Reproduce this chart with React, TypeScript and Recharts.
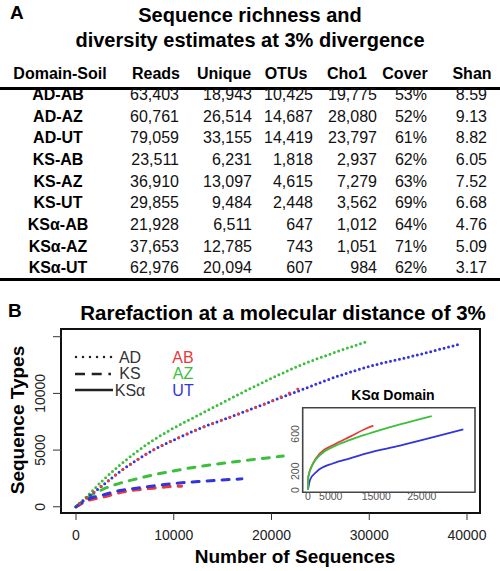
import React from "react";
import { LineChart, Line, XAxis, YAxis, ReferenceArea } from "recharts";

const FONT = '"Liberation Sans", Arial, Helvetica, sans-serif';

// ---- panel A table ----
const tableHeaders = ["Domain-Soil", "Reads", "Unique", "OTUs", "Cho1", "Cover", "Shan"];
const domainSoil = ["AD-AB", "AD-AZ", "AD-UT", "KS-AB", "KS-AZ", "KS-UT", "KSα-AB", "KSα-AZ", "KSα-UT"];
const reads = [63403, 60761, 79059, 23511, 36910, 29855, 21928, 37653, 62976];
const unique = [18943, 26514, 33155, 6231, 13097, 9484, 6511, 12785, 20094];
const otus = [10425, 14687, 14419, 1818, 4615, 2448, 647, 743, 607];
const cho1 = [19775, 28080, 23797, 2937, 7279, 3562, 1012, 1051, 984];
const cover = [53, 52, 61, 62, 63, 69, 64, 71, 62];
const shan = [8.59, 9.13, 8.82, 6.05, 7.52, 6.68, 4.76, 5.09, 3.17];

// ---- panel B rarefaction curves: [number of sequences, sequence types] ----
const adAB: [number, number][] = [[0, 0], [1090, 760], [2790, 1930], [4500, 3100], [6200, 4120], [7900, 5000], [9610, 5730], [12500, 6850], [16050, 8000], [19530, 9150], [22700, 10400]];
const adAZ: [number, number][] = [[0, 0], [1090, 900], [2790, 2370], [4500, 3680], [6200, 4850], [7900, 5880], [9610, 6760], [12500, 8070], [16050, 9650], [19530, 11140], [22900, 12460], [27000, 13770], [29750, 14560]];
const adUT: [number, number][] = [[0, 0], [1090, 760], [2790, 1930], [4500, 3100], [6200, 4120], [7900, 5000], [9610, 5730], [12500, 6850], [16050, 8000], [19530, 9150], [22900, 10260], [27000, 11580], [30370, 12460], [33840, 13160], [39470, 14390]];
const ksAB: [number, number][] = [[0, 0], [1090, 500], [2790, 850], [4500, 1250], [6200, 1490], [7900, 1640], [9610, 1780], [10800, 1820]];
const ksAZ: [number, number][] = [[0, 0], [1090, 760], [2790, 1550], [4500, 2080], [6200, 2460], [7900, 2810], [9610, 3100], [12500, 3540], [16050, 3950], [21200, 4470]];
const ksUT: [number, number][] = [[0, 0], [1090, 610], [2790, 1050], [4500, 1430], [6200, 1640], [7900, 1840], [9610, 2020], [12500, 2220], [16970, 2460]];

// inset: KSα domain
const ksaAB: [number, number][] = [[0, 0], [70, 142], [1160, 290], [2640, 392], [5560, 481], [9230, 570], [12900, 660], [14350, 688]];
const ksaAZ: [number, number][] = [[0, 0], [70, 142], [1160, 285], [2640, 374], [5560, 463], [9230, 535], [12900, 596], [16550, 652], [20220, 702], [27190, 791]];
const ksaUT: [number, number][] = [[0, 0], [440, 107], [1910, 196], [5560, 286], [9230, 339], [12900, 392], [20220, 474], [27540, 564], [34130, 649]];

const xTicks = [0, 10000, 20000, 30000, 40000];
const yTicks = [0, 5000, 10000, 15000];
const yLabelled = [0, 5000, 10000];
const insetXTicks = [0, 5000, 15000, 25000];
const insetYTicks = [0, 200, 600];

const legendTypes = ["AD", "KS", "KSα"];
const legendSoils = ["AB", "AZ", "UT"];

const RED = "#e83a3a";
const GREEN = "#3cbf3c";
const BLUE = "#3434dc";

const pts = (arr: [number, number][]) => arr.map(([x, y]) => ({ x, y }));

const Txt = ({ x, y, size, bold, anchor = "middle", color = "#000", rotate, children }: any) => {
  const w = 480;
  const left = anchor === "start" ? x : anchor === "end" ? x - w : x - w / 2;
  return (
    <div
      style={{
        position: "absolute",
        left,
        top: y - size,
        width: w,
        height: size * 2,
        lineHeight: `${size * 2}px`,
        fontSize: size,
        fontWeight: bold ? 700 : 400,
        color,
        whiteSpace: "nowrap",
        textAlign: anchor === "start" ? "left" : anchor === "end" ? "right" : "center",
        transform: rotate ? `rotate(${rotate}deg)` : undefined,
      }}
    >
      {children}
    </div>
  );
};

const MainXTick = ({ x, payload }: any) => (
  <text x={x} y={245} textAnchor="middle" dominantBaseline="central" fontSize={14} fill="#222" fontFamily={FONT}>
    {payload.value}
  </text>
);

const MainYTick = ({ y, payload }: any) => (
  <text x={40} y={y} transform={`rotate(-90, 40, ${y})`} textAnchor="middle" dominantBaseline="central" fontSize={14} fill="#222" fontFamily={FONT}>
    {yLabelled.includes(payload.value) ? payload.value : ""}
  </text>
);

const InsetXTick = ({ x, payload }: any) => (
  <text x={x} y={116} textAnchor="middle" dominantBaseline="central" fontSize={10.5} fill="#555" fontFamily={FONT}>
    {payload.value}
  </text>
);

const InsetYTick = ({ y, payload }: any) => (
  <text x={15} y={y} transform={`rotate(-90, 15, ${y})`} textAnchor="middle" dominantBaseline="central" fontSize={10.5} fill="#555" fontFamily={FONT}>
    {payload.value}
  </text>
);

const dotted = { strokeDasharray: "0 4.6", strokeLinecap: "round" as const, strokeWidth: 3 };
const dashed = { strokeDasharray: "7 8", strokeLinecap: "round" as const, strokeWidth: 3 };

const colCenters = [60, 156, 224, 286, 347, 405, 472];
const colRights = [0, 179, 252, 313, 377, 427, 487];
const rowY = (i: number) => 95 + i * 21.67;

export default function App() {
  const columns: string[][] = [
    domainSoil,
    reads.map((v) => v.toLocaleString("en-US")),
    unique.map((v) => v.toLocaleString("en-US")),
    otus.map((v) => v.toLocaleString("en-US")),
    cho1.map((v) => v.toLocaleString("en-US")),
    cover.map((v) => `${v}%`),
    shan.map((v) => v.toFixed(2)),
  ];

  return (
    <div style={{ position: "absolute", left: 0, top: 0, width: 500, height: 571, background: "#fff", fontFamily: FONT, overflow: "hidden" }}>
      {/* panel A */}
      <Txt x={10} y={13} size={19} bold anchor="start">A</Txt>
      <Txt x={250} y={15} size={20} bold>Sequence richness and</Txt>
      <Txt x={250} y={40} size={20} bold>diversity estimates at 3% divergence</Txt>
      {tableHeaders.map((h, j) => (
        <Txt key={h} x={colCenters[j]} y={74} size={16} bold>{h}</Txt>
      ))}
      <div style={{ position: "absolute", left: 0, top: 87, width: 500, height: 3, background: "#000" }} />
      {columns.map((col, j) =>
        col.map((v, i) =>
          j === 0 ? (
            <Txt key={`${j}-${i}`} x={colCenters[0] - 2} y={rowY(i)} size={16} bold>{v}</Txt>
          ) : (
            <Txt key={`${j}-${i}`} x={colRights[j]} y={rowY(i)} size={16} anchor="end" color="#111">{v}</Txt>
          )
        )
      )}
      <div style={{ position: "absolute", left: 0, top: 278, width: 500, height: 3, background: "#000" }} />

      {/* panel B */}
      <Txt x={8} y={311} size={19} bold anchor="start">B</Txt>
      <Txt x={283} y={312} size={20.5} bold>Rarefaction at a molecular distance of 3%</Txt>
      <Txt x={18} y={420} size={19} bold rotate={-90}>Sequence Types</Txt>
      <Txt x={295} y={557} size={19} bold>Number of Sequences</Txt>

      <div style={{ position: "absolute", left: 0, top: 290 }}>
        <LineChart width={500} height={281} margin={{ top: 39, right: 20, left: 0, bottom: 0 }}>
          <XAxis
            dataKey="x"
            type="number"
            domain={[-1535, 41330]}
            allowDataOverflow
            ticks={xTicks}
            interval={0}
            axisLine={false}
            tickLine={{ stroke: "#333" }}
            tickSize={7}
            height={58}
            tick={MainXTick}
          />
          <YAxis
            type="number"
            domain={[-550, 15680]}
            allowDataOverflow
            ticks={yTicks}
            interval={0}
            axisLine={false}
            tickLine={{ stroke: "#333" }}
            tickSize={8}
            width={61}
            tick={MainYTick}
          />
          <ReferenceArea x1={-1535} x2={41330} y1={-550} y2={15680} fill="none" stroke="#111" strokeWidth={2} fillOpacity={0} strokeOpacity={1} />
          <Line data={pts(ksAB)} dataKey="y" type="monotone" stroke={RED} dot={false} isAnimationActive={false} {...dashed} />
          <Line data={pts(ksAZ)} dataKey="y" type="monotone" stroke={GREEN} dot={false} isAnimationActive={false} {...dashed} />
          <Line data={pts(ksUT)} dataKey="y" type="monotone" stroke={BLUE} dot={false} isAnimationActive={false} {...dashed} />
          <Line data={pts(adAZ)} dataKey="y" type="monotone" stroke={GREEN} dot={false} isAnimationActive={false} {...dotted} />
          <Line data={pts(adUT)} dataKey="y" type="monotone" stroke={BLUE} dot={false} isAnimationActive={false} {...dotted} />
          <Line data={pts(adAB)} dataKey="y" type="monotone" stroke={RED} dot={false} isAnimationActive={false} {...dotted} strokeDasharray="0 9.2" strokeDashoffset={4.6} />
        </LineChart>
      </div>

      {/* legend */}
      <svg style={{ position: "absolute", left: 0, top: 0 }} width={500} height={571} pointerEvents="none">
        <line x1={76} y1={357} x2={112} y2={357} stroke="#222" strokeWidth={2.5} strokeDasharray="0 7" strokeLinecap="round" />
        <line x1={75} y1={374} x2={111} y2={374} stroke="#222" strokeWidth={2.5} strokeDasharray="10 6.7" />
        <line x1={75} y1={390} x2={113} y2={390} stroke="#222" strokeWidth={2.5} />
        {legendTypes.map((t, i) => (
          <text key={t} x={130} y={357 + i * 16.5} textAnchor="middle" dominantBaseline="central" fontSize={16} fill="#333" fontFamily={FONT}>
            {t}
          </text>
        ))}
        {legendSoils.map((s, i) => (
          <text key={s} x={183} y={357 + i * 16.5} textAnchor="middle" dominantBaseline="central" fontSize={16} fill={[RED, GREEN, BLUE][i]} fontFamily={FONT}>
            {s}
          </text>
        ))}
      </svg>

      {/* inset */}
      <div style={{ position: "absolute", left: 302.7, top: 407.7, width: 172.3, height: 84.6, background: "#fff" }} />
      <Txt x={393} y={395} size={14} bold>KSα Domain</Txt>
      <div style={{ position: "absolute", left: 280, top: 380 }}>
        <LineChart width={200} height={130} margin={{ top: 27.7, right: 5, left: 0, bottom: 0 }}>
          <XAxis
            dataKey="x"
            type="number"
            domain={[-1165, 36700]}
            allowDataOverflow
            ticks={insetXTicks}
            interval={0}
            axisLine={false}
            tickLine={false}
            height={17.7}
            tick={InsetXTick}
          />
          <YAxis
            type="number"
            domain={[-25, 880]}
            allowDataOverflow
            ticks={insetYTicks}
            interval={0}
            axisLine={false}
            tickLine={false}
            width={22.7}
            tick={InsetYTick}
          />
          <ReferenceArea x1={-1165} x2={36700} y1={-25} y2={880} fill="none" fillOpacity={0} stroke="#444" strokeWidth={1.6} strokeOpacity={1} />
          <Line data={pts(ksaUT)} dataKey="y" type="monotone" stroke={BLUE} strokeWidth={1.8} dot={false} isAnimationActive={false} />
          <Line data={pts(ksaAB)} dataKey="y" type="monotone" stroke={RED} strokeWidth={1.8} dot={false} isAnimationActive={false} />
          <Line data={pts(ksaAZ)} dataKey="y" type="monotone" stroke={GREEN} strokeWidth={1.8} dot={false} isAnimationActive={false} />
        </LineChart>
      </div>
    </div>
  );
}
